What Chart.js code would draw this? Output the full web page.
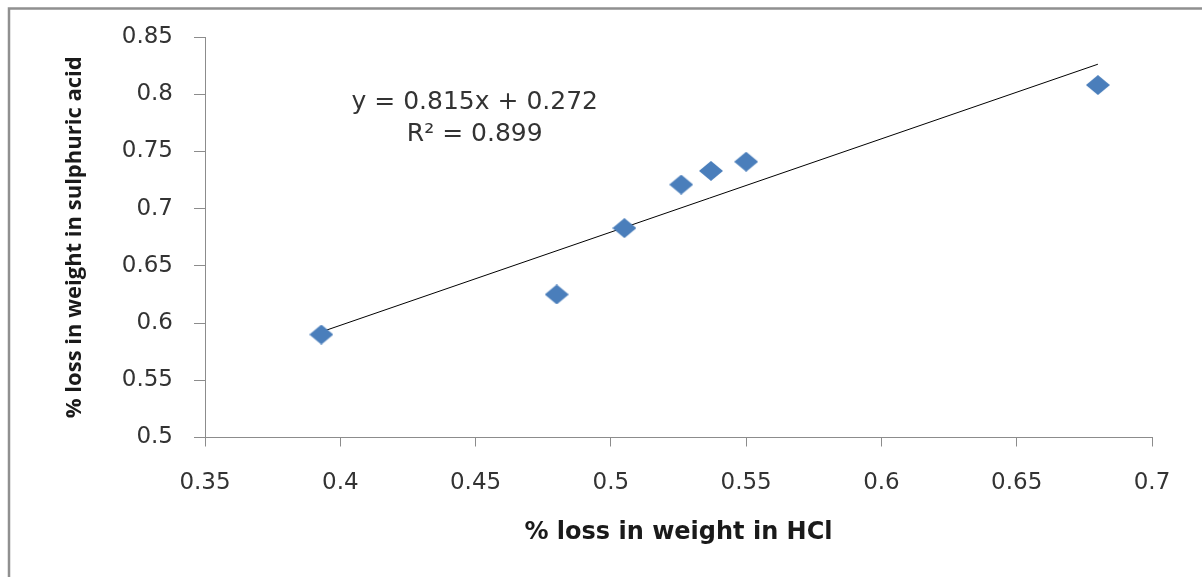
<!DOCTYPE html>
<html>
<head>
<meta charset="utf-8">
<script src="https://cdn.jsdelivr.net/npm/chart.js@4"></script>
<style>
  html, body { margin: 0; padding: 0; background: #fff; }
  #wrap { width: 1202px; height: 577px; position: relative; }
</style>
</head>
<body>
<div id="wrap"><canvas id="chart" width="1202" height="577"></canvas></div>
<script>
// data
const hclLoss = [0.393, 0.480, 0.505, 0.526, 0.537, 0.550, 0.680];
const sulphuricLoss = [0.590, 0.625, 0.683, 0.721, 0.733, 0.741, 0.808];

const xTicks = [0.35, 0.4, 0.45, 0.5, 0.55, 0.6, 0.65, 0.7];
const yTicks = [0.5, 0.55, 0.6, 0.65, 0.7, 0.75, 0.8, 0.85];

// trendline as printed on the chart
const slope = 0.815;
const intercept = 0.272;
const eqLines = ['y = 0.815x + 0.272', 'R\u00b2 = 0.899'];

const axisColor = '#8c8c8c';
const textColor = '#333333';

// diamond marker, a bit wider than tall like the excel one
function diamond(w, h, color) {
    let c = document.createElement('canvas');
    c.width = w; c.height = h;
    let g = c.getContext('2d');
    g.fillStyle = color;
    g.beginPath();
    g.moveTo(w / 2, 0);
    g.lineTo(w, h / 2);
    g.lineTo(w / 2, h);
    g.lineTo(0, h / 2);
    g.closePath();
    g.fill();
    return c;
}

const points = hclLoss.map((x, i) => ({ x: x, y: sulphuricLoss[i] }));
const xMin = Math.min(...hclLoss), xMax = Math.max(...hclLoss);
const trend = [xMin, xMax].map(x => ({ x: x, y: slope * x + intercept }));

const frame = {
    id: 'frame',
    beforeDraw(chart) {
        let ctx = chart.ctx;
        ctx.save();
        ctx.strokeStyle = '#909090';
        ctx.lineWidth = 2.5;
        ctx.beginPath();
        ctx.moveTo(9, 577);
        ctx.lineTo(9, 8.5);
        ctx.lineTo(1202, 8.5);
        ctx.stroke();
        ctx.restore();
    }
};

const equation = {
    id: 'equation',
    afterDatasetsDraw(chart) {
        let ctx = chart.ctx;
        let xs = chart.scales.x, ys = chart.scales.y;
        let cx = xs.getPixelForValue(0.4497);
        let cy = ys.getPixelForValue(0.7925);
        ctx.save();
        ctx.fillStyle = textColor;
        ctx.font = '25px "DejaVu Sans"';
        ctx.textAlign = 'center';
        ctx.textBaseline = 'middle';
        ctx.fillText(eqLines[0], cx, cy);
        ctx.fillText(eqLines[1], cx, cy + 32);
        ctx.restore();
    }
};

new Chart(document.getElementById('chart'), {
    type: 'scatter',
    data: {
        datasets: [
            {
                label: 'data',
                data: points,
                pointStyle: diamond(24, 20, '#4a7ebb'),
                pointRadius: 12,
                order: 1
            },
            {
                type: 'line',
                label: 'trend',
                data: trend,
                borderColor: '#000000',
                borderWidth: 1,
                pointRadius: 0,
                fill: false,
                order: 2
            }
        ]
    },
    options: {
        responsive: false,
        animation: false,
        layout: { padding: { left: 0, right: 50, top: 37, bottom: 0 } },
        plugins: {
            legend: { display: false },
            tooltip: { enabled: false }
        },
        scales: {
            x: {
                type: 'linear',
                min: 0.35,
                max: 0.7,
                afterBuildTicks: s => { s.ticks = xTicks.map(v => ({ value: v })); },
                afterFit: s => { s.height = 139.5; },
                grid: { drawOnChartArea: false, drawTicks: true, tickLength: 9, color: axisColor },
                border: { color: axisColor, width: 1 },
                ticks: {
                    color: textColor,
                    padding: 23,
                    font: { family: 'DejaVu Sans', size: 23 },
                    callback: v => String(v)
                },
                title: {
                    display: true,
                    text: '% loss in weight in HCl',
                    color: '#1a1a1a',
                    font: { family: 'DejaVu Sans', size: 24, weight: 'bold' },
                    padding: { top: 0, bottom: 30 }
                }
            },
            y: {
                type: 'linear',
                min: 0.5,
                max: 0.85,
                afterBuildTicks: s => { s.ticks = yTicks.map(v => ({ value: v })); },
                afterFit: s => { s.width = 205; },
                grid: { drawOnChartArea: false, drawTicks: true, tickLength: 11, color: axisColor },
                border: { color: axisColor, width: 1 },
                ticks: {
                    color: textColor,
                    padding: 21,
                    font: { family: 'DejaVu Sans', size: 23 },
                    callback: v => String(v)
                },
                title: {
                    display: true,
                    text: '% loss in weight in sulphuric acid',
                    color: '#1a1a1a',
                    font: { family: 'Open Sans', size: 22, weight: 'bold' },
                    padding: { top: 62, bottom: 0 }
                }
            }
        }
    },
    plugins: [frame, equation]
});
</script>
</body>
</html>
